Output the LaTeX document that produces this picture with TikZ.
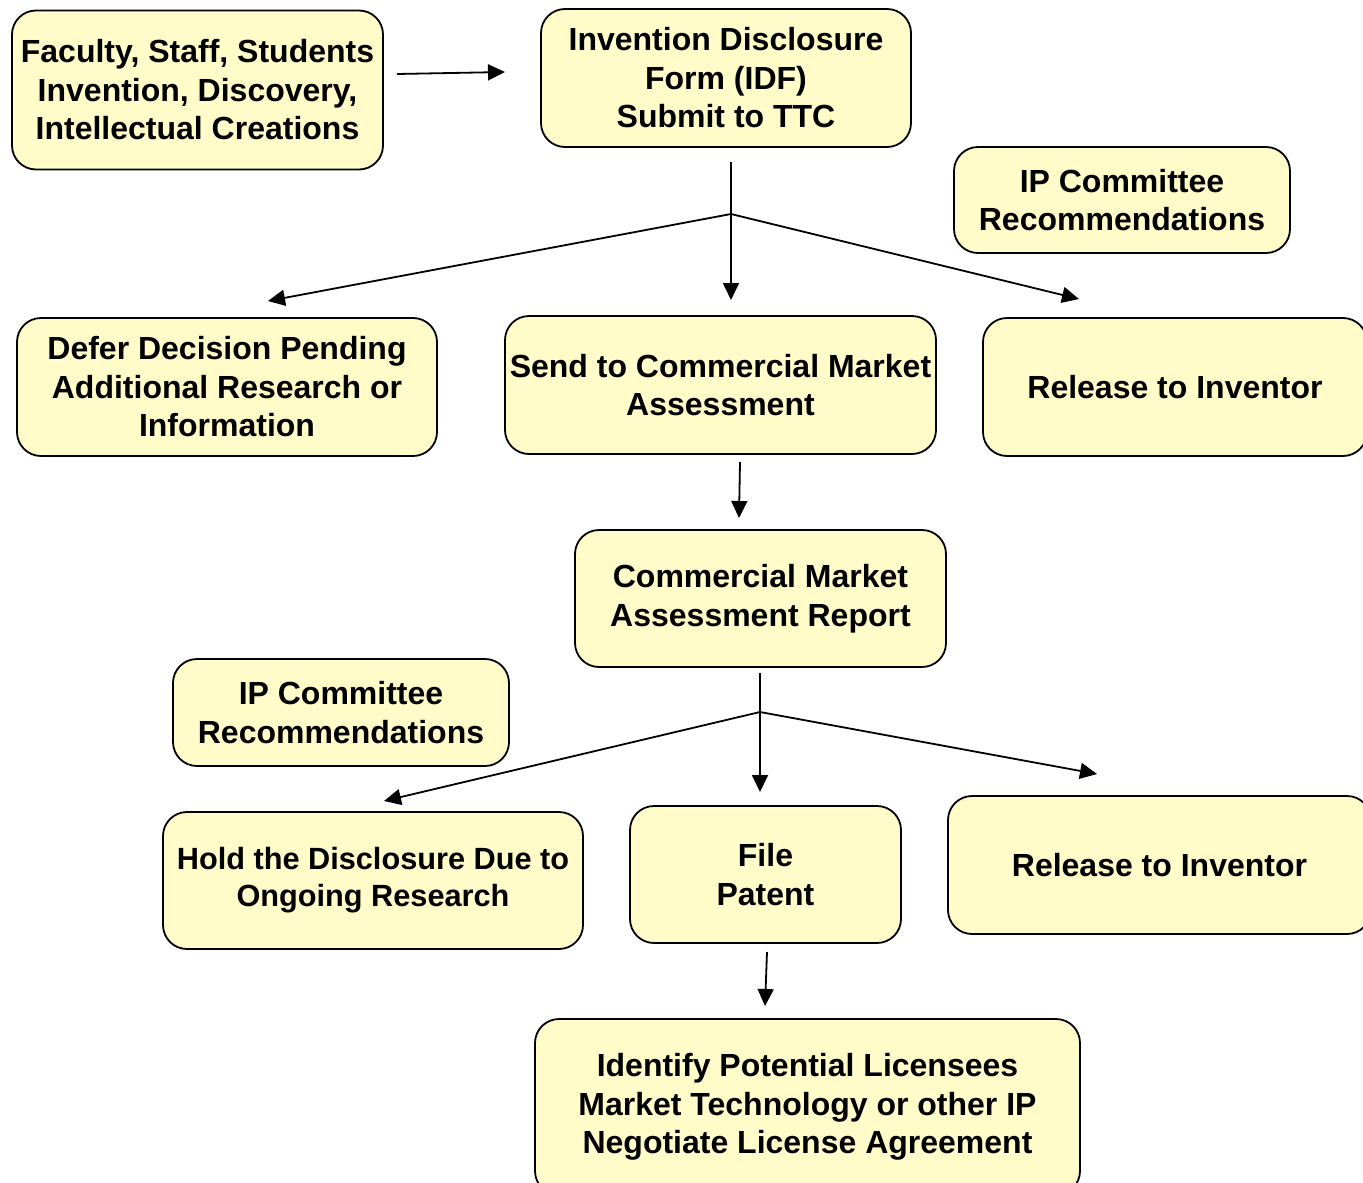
\documentclass[tikz,border=0pt]{standalone}
\usepackage{fontspec}
\setmainfont{Liberation Sans}
\usetikzlibrary{arrows.meta}
\definecolor{boxfill}{HTML}{FFFCC9}
\tikzset{
  box/.style={draw=black, line width=1.8pt, fill=boxfill, rounded corners=24pt,
    inner sep=0pt, align=center, font=\fontsize{32}{38.5}\selectfont\bfseries},
  arr/.style={line width=1.8pt, -{Triangle[length=17pt,width=16pt]}},
  ln/.style={line width=1.8pt}
}
\begin{document}
\begin{tikzpicture}[x=1pt,y=-1pt]
\useasboundingbox (0,0) rectangle (1363,1183);
\clip (0,0) rectangle (1363,1183);
\fill[white] (0,0) rectangle (1363,1183);
% boxes: centre, size
\node[box, minimum width=371pt, minimum height=159pt] (fac) at (197.5,90) {Faculty, Staff, Students\\Invention, Discovery,\\Intellectual Creations};
\node[box, minimum width=370pt, minimum height=138pt] (idf) at (726,78) {Invention Disclosure\\Form (IDF)\\Submit to TTC};
\node[box, minimum width=336pt, minimum height=106pt] (ip1) at (1122,200) {IP Committee\\Recommendations};
\node[box, minimum width=420pt, minimum height=138pt] (defer) at (227,387) {Defer Decision Pending\\Additional Research or\\Information};
\node[box, minimum width=431pt, minimum height=138pt] (send) at (720.5,385) {Send to Commercial Market\\Assessment};
\node[box, minimum width=384pt, minimum height=138pt] (rel1) at (1175,387) {Release to Inventor};
\node[box, minimum width=371pt, minimum height=137pt] (cmar) at (760.5,598.5) {Commercial Market\\Assessment Report};
\node[box, minimum width=336pt, minimum height=107pt] (ip2) at (341,712.5) {IP Committee\\Recommendations};
\node[box, minimum width=420pt, minimum height=137pt, font=\fontsize{30.7}{37}\selectfont\bfseries] (hold) at (373,880.5) {Hold the Disclosure Due to\\Ongoing Research};
\node[box, minimum width=271pt, minimum height=137pt] (file) at (765.5,874.5) {File\\Patent};
\node[box, minimum width=423pt, minimum height=138pt] (rel2) at (1159.5,865) {Release to Inventor};
\node[box, minimum width=545pt, minimum height=176pt] (ident) at (807.5,1107) {Identify Potential Licensees\\Market Technology or other IP\\Negotiate License Agreement};
% connector coordinates
\coordinate (a1s) at (397,74);
\coordinate (a1e) at (505,72);
\coordinate (b1s) at (731,162);
\coordinate (b1) at (731,214);
\coordinate (b1l) at (268,301);
\coordinate (b1m) at (731,300);
\coordinate (b1r) at (1079,299);
\coordinate (c1s) at (740,462);
\coordinate (c1e) at (739,518);
\coordinate (b2s) at (760,673);
\coordinate (b2) at (760,712);
\coordinate (b2l) at (384,801);
\coordinate (b2m) at (760,792);
\coordinate (b2r) at (1097,774);
\coordinate (d1s) at (767,952);
\coordinate (d1e) at (765,1006);
% connectors
\draw[arr] (a1s) -- (a1e);
\draw[ln] (b1s) -- (b1);
\draw[arr] (b1) -- (b1l);
\draw[arr] (b1) -- (b1m);
\draw[arr] (b1) -- (b1r);
\draw[arr] (c1s) -- (c1e);
\draw[ln] (b2s) -- (b2);
\draw[arr] (b2) -- (b2l);
\draw[arr] (b2) -- (b2m);
\draw[arr] (b2) -- (b2r);
\draw[arr] (d1s) -- (d1e);
\end{tikzpicture}
\end{document}
